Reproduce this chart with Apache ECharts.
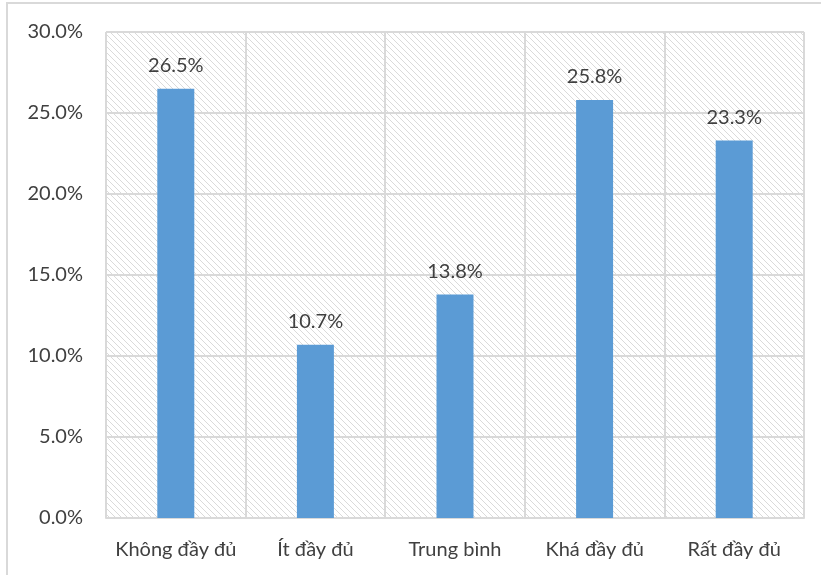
<!DOCTYPE html>
<html>
<head>
<meta charset="utf-8">
<script src="https://cdn.jsdelivr.net/npm/echarts@6/dist/echarts.min.js"></script>
<style>
  html, body { margin: 0; padding: 0; background: #fff; }
  #main { width: 821px; height: 575px; }
</style>
</head>
<body>
<div id="main"></div>
<script>
// du lieu doc tu hinh
const categories = ['Không đầy đủ', 'Ít đầy đủ', 'Trung bình', 'Khá đầy đủ', 'Rất đầy đủ'];
const values = [26.5, 10.7, 13.8, 25.8, 23.3];
const yTicks = [0, 5, 10, 15, 20, 25, 30];

// nen soc cheo cho vung ve
function hatch() {
    const size = 6;
    const c = document.createElement('canvas');
    c.width = size;
    c.height = size;
    const ctx = c.getContext('2d');
    ctx.fillStyle = '#ffffff';
    ctx.fillRect(0, 0, size, size);
    ctx.strokeStyle = '#dadada';
    ctx.lineWidth = 1;
    ctx.beginPath();
    ctx.moveTo(-1, -1);
    ctx.lineTo(size + 1, size + 1);
    ctx.moveTo(-1, size - 1);
    ctx.lineTo(1, size + 1);
    ctx.moveTo(size - 1, -1);
    ctx.lineTo(size + 1, 1);
    ctx.stroke();
    return c;
}

const font = 'Lato, "Noto Sans", sans-serif';
const chart = echarts.init(document.getElementById('main'));

const option = {
    animation: false,
    grid: {
        left: 106, right: 17, top: 32, bottom: 57,
        show: true,
        backgroundColor: { image: hatch(), repeat: 'repeat' },
        borderWidth: 0
    },
    graphic: [{
        type: 'rect',
        shape: { x: 7, y: 3, width: 840, height: 600 },
        style: { fill: 'none', stroke: '#d9d9d9', lineWidth: 2 },
        silent: true
    }],
    xAxis: {
        type: 'category',
        data: categories,
        axisLine: { lineStyle: { color: '#d9d9d9', width: 2 } },
        axisTick: { show: false },
        splitLine: { show: true, interval: 0, lineStyle: { color: '#d9d9d9', width: 2 } },
        axisLabel: { interval: 0, color: '#404040', fontSize: 20, fontFamily: font, margin: 22 }
    },
    yAxis: {
        type: 'value',
        min: yTicks[0],
        max: yTicks[yTicks.length - 1],
        interval: 5,
        axisLine: { show: false },
        axisTick: { show: false },
        splitLine: { lineStyle: { color: '#d9d9d9', width: 2 } },
        axisLabel: {
            color: '#404040', fontSize: 20, fontFamily: font, margin: 23,
            formatter: v => v.toFixed(1) + '%'
        }
    },
    series: [{
        type: 'bar',
        data: values,
        barWidth: '26.5%',
        itemStyle: { color: '#5b9bd5' },
        label: {
            show: true,
            position: 'top',
            distance: 13,
            color: '#404040',
            fontSize: 20,
            fontFamily: font,
            formatter: p => p.value.toFixed(1) + '%'
        }
    }]
};

chart.setOption(option);
</script>
</body>
</html>
